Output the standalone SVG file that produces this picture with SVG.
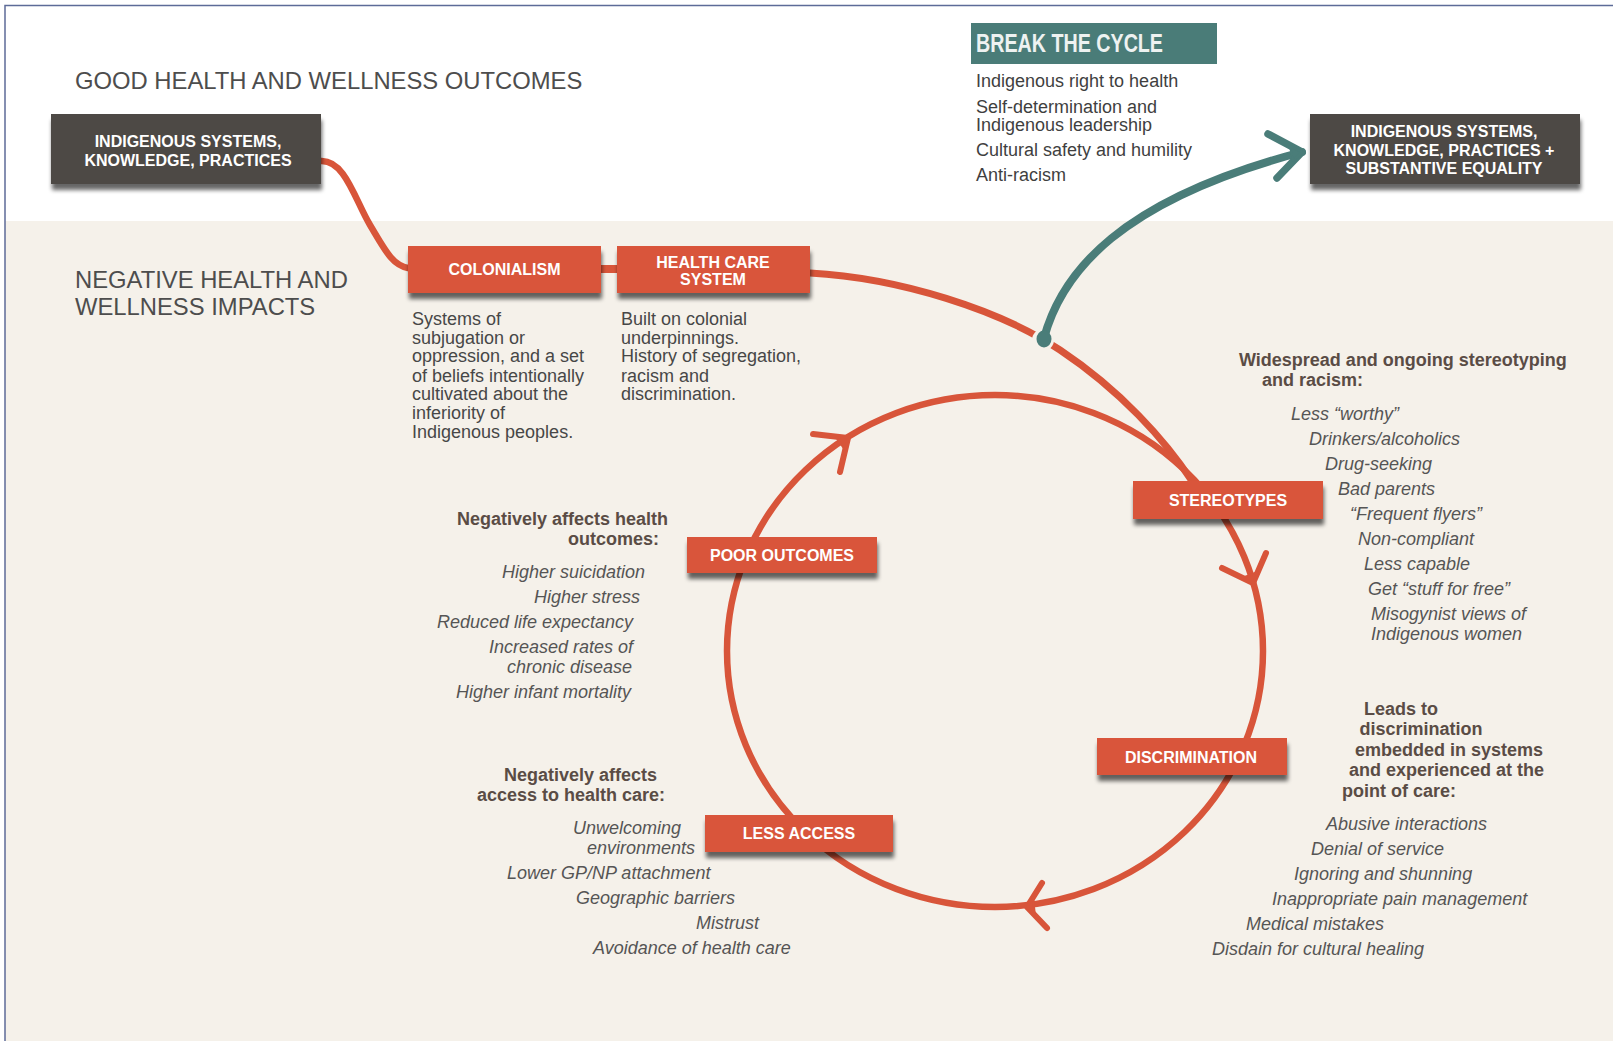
<svg xmlns="http://www.w3.org/2000/svg" width="1613" height="1041" viewBox="0 0 1613 1041">
<defs>
<style>
text{font-family:"Liberation Sans",Arial,Helvetica,sans-serif;}
.title{font-size:23.8px;fill:#4d4d4d;}
.boxt{font-size:16px;font-weight:bold;fill:#ffffff;text-anchor:middle;}
.desc{font-size:18px;fill:#474747;}
.it{font-size:18px;font-style:italic;fill:#555555;}
.hd{font-size:18px;font-weight:bold;fill:#5a4c45;}
.btc{font-size:18px;fill:#3f3f3f;}
.red{fill:none;stroke:#d8553a;stroke-linecap:round;stroke-linejoin:round;}
.teal{fill:none;stroke:#4a7d79;stroke-linecap:round;stroke-linejoin:round;}
.redf{fill:#d8553a;stroke:#d8553a;stroke-linejoin:round;stroke-width:2;}
.tealf{fill:#4a7d79;stroke:#4a7d79;stroke-linejoin:round;stroke-width:2;}
.rbox{fill:#d9553b;}
.dbox{fill:#4e4944;}
</style>
<filter id="sh" x="-10%" y="-20%" width="120%" height="170%">
<feGaussianBlur in="SourceAlpha" stdDeviation="2.2"/>
<feOffset dx="1" dy="6" result="o"/>
<feComponentTransfer><feFuncA type="linear" slope="0.6"/></feComponentTransfer>
<feMerge><feMergeNode/><feMergeNode in="SourceGraphic"/></feMerge>
</filter>
</defs>

<rect x="0" y="0" width="1613" height="1041" fill="#ffffff"/>
<rect x="5" y="221" width="1608" height="820" fill="#f5f1ea"/>
<polyline points="5,1041 5,5.5 1613,5.5" fill="none" stroke="#5d6b98" stroke-width="1.5"/>

<g id="section-titles">
<text class="title" x="75" y="89">GOOD HEALTH AND WELLNESS OUTCOMES</text>
<text class="title" x="75" y="288">NEGATIVE HEALTH AND</text>
<text class="title" x="75" y="315">WELLNESS IMPACTS</text>
</g>

<g id="connectors">
<path class="red" stroke-width="6.5" d="M321,161 C345,160 355,200 370,225 C385,250 392,265 408,268"/>
<path class="red" stroke-width="8" d="M600,269 L618,269"/>
<path class="red" stroke-width="7" d="M810,273 C900,278 1000,310 1060,350 S1165,440 1192,481"/>
<ellipse class="red" stroke-width="6.5" cx="995" cy="651" rx="268" ry="256"/>
<path class="red" stroke-width="6" d="M813,434 L848,438 L840,472"/>
<polygon class="redf" points="848,438 836,437 845,450"/>
<path class="red" stroke-width="6" d="M1222,568 L1253,583 L1266,553"/>
<polygon class="redf" points="1253,583 1242,578 1258,572"/>
<path class="red" stroke-width="6" d="M1042,883 L1027,907 L1047,928"/>
<polygon class="redf" points="1027,907 1033,897 1035,916"/>
<circle cx="1043" cy="340" r="11" fill="#f5f1ea"/>
<path class="teal" stroke-width="8" d="M1044,338 C1062,272 1120,200 1302,152"/>
<ellipse cx="1044" cy="339" rx="7.5" ry="8.5" fill="#4a7d79"/>
<path class="teal" stroke-width="7.5" d="M1268,134 L1302,152 L1277,178"/>
<polygon class="tealf" points="1302,152 1290,146 1293,161"/>
</g>

<g id="node-indigenous-left">
<rect class="dbox" x="51" y="114" width="270" height="70" filter="url(#sh)"/>
<text class="boxt" x="188" y="146.5">INDIGENOUS SYSTEMS,</text>
<text class="boxt" x="188" y="165.5">KNOWLEDGE, PRACTICES</text>
</g>

<g id="node-indigenous-right">
<rect class="dbox" x="1310" y="114" width="270" height="70" filter="url(#sh)"/>
<text class="boxt" x="1444" y="137">INDIGENOUS SYSTEMS,</text>
<text class="boxt" x="1444" y="155.5">KNOWLEDGE, PRACTICES +</text>
<text class="boxt" x="1444" y="174">SUBSTANTIVE EQUALITY</text>
</g>

<g id="node-break-the-cycle">
<rect x="971" y="23" width="246" height="41" fill="#4a7c78"/>
<text x="976" y="52" font-size="25" font-weight="bold" fill="#eef2f1" textLength="187" lengthAdjust="spacingAndGlyphs">BREAK THE CYCLE</text>
<text class="btc" x="976" y="87">Indigenous right to health</text>
<text class="btc" x="976" y="112.5">Self-determination and</text>
<text class="btc" x="976" y="130.5">Indigenous leadership</text>
<text class="btc" x="976" y="156">Cultural safety and humility</text>
<text class="btc" x="976" y="180.5">Anti-racism</text>
</g>

<g id="node-colonialism">
<rect class="rbox" x="408" y="246" width="193" height="47" filter="url(#sh)"/>
<text class="boxt" x="504.5" y="274.5">COLONIALISM</text>
<text class="desc" x="412" y="325">Systems of</text>
<text class="desc" x="412" y="343.5">subjugation or</text>
<text class="desc" x="412" y="362">oppression, and a set</text>
<text class="desc" x="412" y="381.5">of beliefs intentionally</text>
<text class="desc" x="412" y="400">cultivated about the</text>
<text class="desc" x="412" y="419">inferiority of</text>
<text class="desc" x="412" y="438">Indigenous peoples.</text>
</g>

<g id="node-health-care-system">
<rect class="rbox" x="617" y="246" width="193" height="47" filter="url(#sh)"/>
<text class="boxt" x="713" y="267.5">HEALTH CARE</text>
<text class="boxt" x="713" y="285">SYSTEM</text>
<text class="desc" x="621" y="325">Built on colonial</text>
<text class="desc" x="621" y="343.5">underpinnings.</text>
<text class="desc" x="621" y="362">History of segregation,</text>
<text class="desc" x="621" y="381.5">racism and</text>
<text class="desc" x="621" y="400">discrimination.</text>
</g>

<g id="node-stereotypes">
<rect class="rbox" x="1133" y="481" width="190" height="38" filter="url(#sh)"/>
<text class="boxt" x="1228" y="506">STEREOTYPES</text>
<text class="hd" x="1239" y="366">Widespread and ongoing stereotyping</text>
<text class="hd" x="1262" y="386">and racism:</text>
<text class="it" x="1291" y="419.5">Less “worthy”</text>
<text class="it" x="1309" y="444.5">Drinkers/alcoholics</text>
<text class="it" x="1325" y="469.5">Drug-seeking</text>
<text class="it" x="1338" y="494.5">Bad parents</text>
<text class="it" x="1350" y="519.5">“Frequent flyers”</text>
<text class="it" x="1358" y="544.5">Non-compliant</text>
<text class="it" x="1364" y="569.5">Less capable</text>
<text class="it" x="1368" y="594.5">Get “stuff for free”</text>
<text class="it" x="1371" y="619.5">Misogynist views of</text>
<text class="it" x="1371" y="639.5">Indigenous women</text>
</g>

<g id="node-discrimination">
<rect class="rbox" x="1097" y="738" width="190" height="37" filter="url(#sh)"/>
<text class="boxt" x="1191" y="763">DISCRIMINATION</text>
<text class="hd" x="1364" y="715">Leads to</text>
<text class="hd" x="1359.5" y="735">discrimination</text>
<text class="hd" x="1355" y="756">embedded in systems</text>
<text class="hd" x="1349" y="776">and experienced at the</text>
<text class="hd" x="1342" y="797">point of care:</text>
<text class="it" x="1326" y="829.5">Abusive interactions</text>
<text class="it" x="1311" y="854.5">Denial of service</text>
<text class="it" x="1294" y="879.5">Ignoring and shunning</text>
<text class="it" x="1272" y="904.5">Inappropriate pain management</text>
<text class="it" x="1246" y="929.5">Medical mistakes</text>
<text class="it" x="1212" y="954.5">Disdain for cultural healing</text>
</g>

<g id="node-less-access">
<rect class="rbox" x="705" y="815" width="188" height="37" filter="url(#sh)"/>
<text class="boxt" x="799" y="838.5">LESS ACCESS</text>
<text class="hd" x="504" y="781">Negatively affects</text>
<text class="hd" x="477" y="801">access to health care:</text>
<text class="it" x="573" y="833.5">Unwelcoming</text>
<text class="it" x="587" y="853.5">environments</text>
<text class="it" x="507" y="878.5">Lower GP/NP attachment</text>
<text class="it" x="576" y="903.5">Geographic barriers</text>
<text class="it" x="696" y="928.5">Mistrust</text>
<text class="it" x="593" y="953.5">Avoidance of health care</text>
</g>

<g id="node-poor-outcomes">
<rect class="rbox" x="687" y="537" width="190" height="36" filter="url(#sh)"/>
<text class="boxt" x="782" y="561">POOR OUTCOMES</text>
<text class="hd" x="457" y="524.5">Negatively affects health</text>
<text class="hd" x="568" y="544.5">outcomes:</text>
<text class="it" x="502" y="577.5">Higher suicidation</text>
<text class="it" x="534" y="602.5">Higher stress</text>
<text class="it" x="437" y="627.5">Reduced life expectancy</text>
<text class="it" x="489" y="652.5">Increased rates of</text>
<text class="it" x="507" y="672.5">chronic disease</text>
<text class="it" x="456" y="697.5">Higher infant mortality</text>
</g>
</svg>
